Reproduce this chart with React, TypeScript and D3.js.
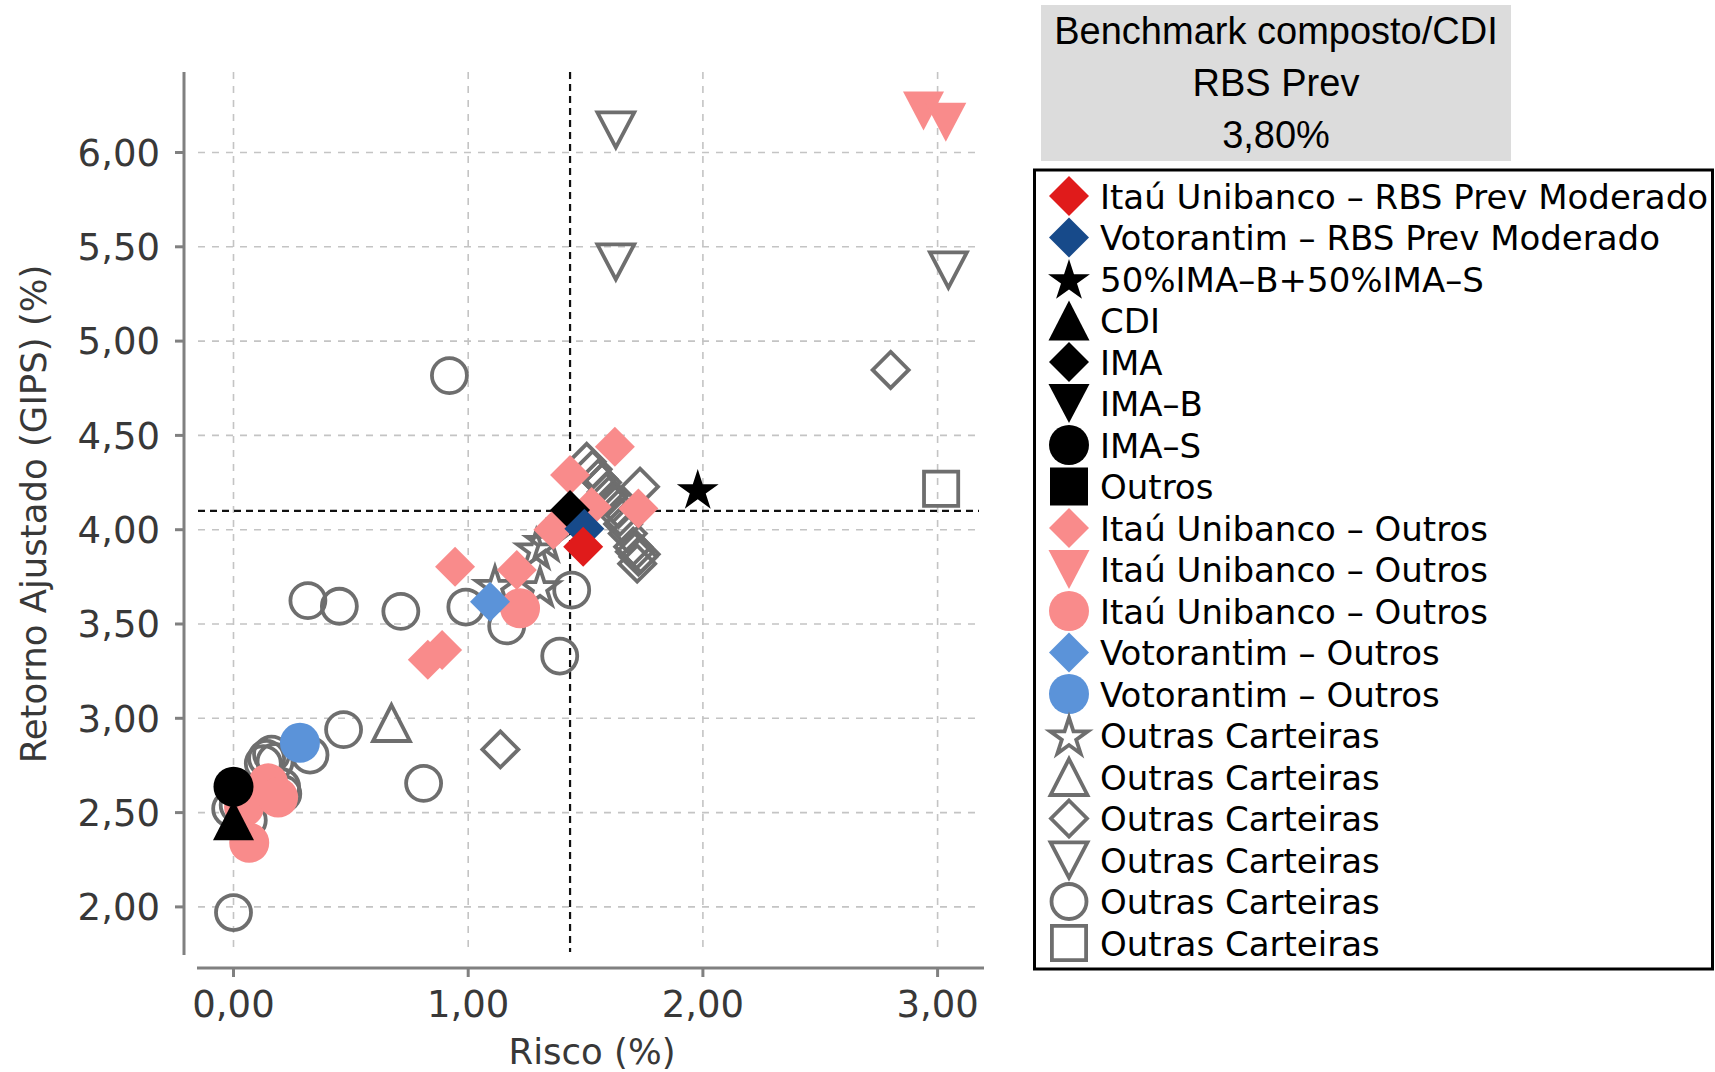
import React from "react";
import * as d3 from "d3";

// ---------- data ----------
const xTicks = [0, 1, 2, 3];
const xTickLabels = ["0,00", "1,00", "2,00", "3,00"];
const yTicks = [2, 2.5, 3, 3.5, 4, 4.5, 5, 5.5, 6];
const yTickLabels = ["2,00", "2,50", "3,00", "3,50", "4,00", "4,50", "5,00", "5,50", "6,00"];

const xTitle = "Risco (%)";
const yTitle = "Retorno Ajustado (GIPS) (%)";
const titleLines = ["Benchmark composto/CDI", "RBS Prev", "3,80%"];

// reference lines (IMA benchmark)
const refRisk = 1.434;
const refReturn = 4.1;

// [risk, return]
const itauModerado: [number, number][] = [[1.49, 3.91]];
const votorantimModerado: [number, number][] = [[1.495, 4.005]];
const bench5050: [number, number][] = [[1.978, 4.216]];
const cdi: [number, number][] = [[0.0, 2.46]];
const ima: [number, number][] = [[1.434, 4.104]];
const imaB: [number, number][] = [];
const imaS: [number, number][] = [[0.0, 2.637]];
const outros: [number, number][] = [];
const itauOutrosDiamond: [number, number][] = [
  [1.625, 4.44], [1.434, 4.29], [1.526, 4.12], [1.725, 4.113], [1.363, 4.0],
  [0.944, 3.804], [1.207, 3.786], [0.828, 3.31], [0.889, 3.362],
];
const itauOutrosTriDown: [number, number][] = [[2.94, 6.22], [3.035, 6.16]];
const itauOutrosCircle: [number, number][] = [
  [1.221, 3.583], [0.045, 2.53], [0.148, 2.655], [0.19, 2.58], [0.067, 2.34],
];
const votorantimOutrosDiamond: [number, number][] = [[1.093, 3.618]];
const votorantimOutrosCircle: [number, number][] = [[0.283, 2.87]];
const outrasStar: [number, number][] = [[1.29, 3.9], [1.33, 3.94], [1.306, 3.7], [1.114, 3.707]];
const outrasTriangle: [number, number][] = [[0.673, 2.975]];
const outrasDiamond: [number, number][] = [
  [2.8, 4.847], [1.137, 2.835], [1.505, 4.36], [1.53, 4.32], [1.554, 4.27],
  [1.57, 4.25], [1.59, 4.2], [1.6, 4.18], [1.618, 4.14], [1.64, 4.11],
  [1.647, 4.07], [1.66, 4.03], [1.68, 3.98], [1.732, 4.228], [1.703, 3.91],
  [1.71, 3.883], [1.725, 3.857], [1.72, 3.82], [1.735, 3.87],
];
const outrasTriDown: [number, number][] = [[1.629, 6.12], [1.629, 5.42], [3.046, 5.377]];
const outrasCircle: [number, number][] = [
  [0.92, 4.817], [0.317, 3.624], [0.451, 3.594], [0.713, 3.567], [0.99, 3.59],
  [1.164, 3.49], [1.441, 3.68], [1.39, 3.33], [0.469, 2.94], [0.81, 2.655],
  [0.0, 1.97], [0.326, 2.805], [0.141, 2.788], [0.162, 2.81], [0.177, 2.77],
  [0.127, 2.76], [0.205, 2.637], [0.21, 2.6], [-0.012, 2.52], [0.063, 2.46], [0.02, 2.54],
];
const outrasSquare: [number, number][] = [[3.015, 4.217]];

type Shape = "diamond" | "star" | "triangle" | "triangleDown" | "circle" | "square";
interface Series {
  label: string;
  shape: Shape;
  fill: string;
  hollow: boolean;
  points: [number, number][];
}

const RED = "#e01b1b";
const NAVY = "#174a8a";
const PINK = "#f98b8b";
const LBLUE = "#5b93d9";
const GRAY = "#6e6e6e";

const series: Series[] = [
  { label: "Itaú Unibanco – RBS Prev Moderado", shape: "diamond", fill: RED, hollow: false, points: itauModerado },
  { label: "Votorantim – RBS Prev Moderado", shape: "diamond", fill: NAVY, hollow: false, points: votorantimModerado },
  { label: "50%IMA–B+50%IMA–S", shape: "star", fill: "#000", hollow: false, points: bench5050 },
  { label: "CDI", shape: "triangle", fill: "#000", hollow: false, points: cdi },
  { label: "IMA", shape: "diamond", fill: "#000", hollow: false, points: ima },
  { label: "IMA–B", shape: "triangleDown", fill: "#000", hollow: false, points: imaB },
  { label: "IMA–S", shape: "circle", fill: "#000", hollow: false, points: imaS },
  { label: "Outros", shape: "square", fill: "#000", hollow: false, points: outros },
  { label: "Itaú Unibanco – Outros", shape: "diamond", fill: PINK, hollow: false, points: itauOutrosDiamond },
  { label: "Itaú Unibanco – Outros", shape: "triangleDown", fill: PINK, hollow: false, points: itauOutrosTriDown },
  { label: "Itaú Unibanco – Outros", shape: "circle", fill: PINK, hollow: false, points: itauOutrosCircle },
  { label: "Votorantim – Outros", shape: "diamond", fill: LBLUE, hollow: false, points: votorantimOutrosDiamond },
  { label: "Votorantim – Outros", shape: "circle", fill: LBLUE, hollow: false, points: votorantimOutrosCircle },
  { label: "Outras Carteiras", shape: "star", fill: GRAY, hollow: true, points: outrasStar },
  { label: "Outras Carteiras", shape: "triangle", fill: GRAY, hollow: true, points: outrasTriangle },
  { label: "Outras Carteiras", shape: "diamond", fill: GRAY, hollow: true, points: outrasDiamond },
  { label: "Outras Carteiras", shape: "triangleDown", fill: GRAY, hollow: true, points: outrasTriDown },
  { label: "Outras Carteiras", shape: "circle", fill: GRAY, hollow: true, points: outrasCircle },
  { label: "Outras Carteiras", shape: "square", fill: GRAY, hollow: true, points: outrasSquare },
];

// drawing order: hollow gray first, then coloured, then benchmarks, then moderado portfolios
const drawOrder = [13, 14, 15, 16, 17, 18, 8, 9, 10, 11, 12, 2, 3, 4, 5, 6, 7, 1, 0];

// ---------- layout ----------
const W = 1715;
const H = 1072;
const x = d3.scaleLinear().domain([0, 3]).range([233.5, 937.6]);
const y = d3.scaleLinear().domain([2, 6]).range([906.9, 152.5]);
const plotLeft = 198;
const plotRight = 979;
const plotTop = 72;
const plotBottom = 952;
const yAxisX = 184;
const xAxisY = 968;

function shapePath(shape: Shape, cx: number, cy: number, hollow: boolean): string {
  const k = hollow ? 0.9 : 1;
  if (shape === "diamond") {
    const h = 20 * k;
    return `M${cx},${cy - h}L${cx + h},${cy}L${cx},${cy + h}L${cx - h},${cy}Z`;
  }
  if (shape === "triangle") {
    const w = 20.5 * k, h = 20 * k;
    return `M${cx},${cy - h}L${cx + w},${cy + h}L${cx - w},${cy + h}Z`;
  }
  if (shape === "triangleDown") {
    const w = 20.5 * k, h = 19.5 * k;
    return `M${cx - w},${cy - h}L${cx + w},${cy - h}L${cx},${cy + h}Z`;
  }
  if (shape === "square") {
    const h = 19 * k;
    return `M${cx - h},${cy - h}H${cx + h}V${cy + h}H${cx - h}Z`;
  }
  if (shape === "star") {
    const R = 22 * k, r = R * 0.382;
    const pts: string[] = [];
    for (let i = 0; i < 10; i++) {
      const rr = i % 2 === 0 ? R : r;
      const a = -Math.PI / 2 + (i * Math.PI) / 5;
      pts.push(`${cx + rr * Math.cos(a)},${cy + 2 + rr * Math.sin(a)}`);
    }
    return "M" + pts.join("L") + "Z";
  }
  // circle
  const rad = hollow ? 17.5 : 20;
  return `M${cx - rad},${cy}a${rad},${rad} 0 1,0 ${2 * rad},0a${rad},${rad} 0 1,0 ${-2 * rad},0Z`;
}

function Marker({ s, cx, cy }: { s: Series; cx: number; cy: number }) {
  return (
    <path
      d={shapePath(s.shape, cx, cy, s.hollow)}
      fill={s.hollow ? "none" : s.fill}
      stroke={s.hollow ? s.fill : "none"}
      strokeWidth={s.hollow ? 3.8 : 0}
      strokeLinejoin="miter"
    />
  );
}

export default function App() {
  const axisFont = "'DejaVu Sans', Verdana, sans-serif";
  const legendTop = 196;
  const legendStep = 41.5;
  return (
    <div style={{ position: "absolute", left: 0, top: 0, width: W, height: H, background: "#fff" }}>
      <svg width={W} height={H} viewBox={`0 0 ${W} ${H}`} style={{ display: "block" }}>
        <rect x={0} y={0} width={W} height={H} fill="#fff" />
        {/* grid */}
        <g stroke="#c4c4c4" strokeWidth={1.6} strokeDasharray="7,7">
          {yTicks.map((t) => (
            <line key={"gy" + t} x1={plotLeft} x2={plotRight} y1={y(t)} y2={y(t)} />
          ))}
          {xTicks.map((t) => (
            <line key={"gx" + t} x1={x(t)} x2={x(t)} y1={plotTop} y2={plotBottom} />
          ))}
        </g>
        {/* reference lines */}
        <g stroke="#111" strokeWidth={2.2} strokeDasharray="7,5">
          <line x1={plotLeft} x2={plotRight} y1={y(refReturn)} y2={y(refReturn)} />
          <line x1={x(refRisk)} x2={x(refRisk)} y1={plotTop} y2={plotBottom} />
        </g>
        {/* axes */}
        <g stroke="#808080" strokeWidth={3}>
          <line x1={yAxisX} x2={yAxisX} y1={plotTop} y2={955} />
          <line x1={197} x2={984} y1={xAxisY} y2={xAxisY} />
          {yTicks.map((t) => (
            <line key={"ty" + t} x1={yAxisX - 9} x2={yAxisX} y1={y(t)} y2={y(t)} />
          ))}
          {xTicks.map((t) => (
            <line key={"tx" + t} x1={x(t)} x2={x(t)} y1={xAxisY} y2={xAxisY + 9} />
          ))}
        </g>
        <g fill="#383838" fontFamily={axisFont} fontSize={37}>
          {yTicks.map((t, i) => (
            <text key={"ly" + t} x={160} y={y(t)} dy="0.36em" textAnchor="end">
              {yTickLabels[i]}
            </text>
          ))}
          {xTicks.map((t, i) => (
            <text key={"lx" + t} x={x(t)} y={1017} textAnchor="middle">
              {xTickLabels[i]}
            </text>
          ))}
        </g>
        <text x={592} y={1064} textAnchor="middle" fontFamily={axisFont} fontSize={35.5} fill="#383838">
          {xTitle}
        </text>
        <text
          transform={`translate(46,514) rotate(-90)`}
          textAnchor="middle"
          fontFamily={axisFont}
          fontSize={35.5}
          fill="#383838"
        >
          {yTitle}
        </text>
        {/* markers */}
        <g>
          {drawOrder.map((si) => {
            const s = series[si];
            return (
              <g key={"s" + si}>
                {s.points.map((p, j) => (
                  <Marker key={j} s={s} cx={x(p[0])} cy={y(p[1])} />
                ))}
              </g>
            );
          })}
        </g>
        {/* title box */}
        <rect x={1041} y={5} width={470} height={156} fill="#dcdcdc" />
        <g fontFamily="'Liberation Sans', Arial, sans-serif" fontSize={38} fill="#000" textAnchor="middle">
          {titleLines.map((t, i) => (
            <text key={"t" + i} x={1276} y={44 + i * 52}>
              {t}
            </text>
          ))}
        </g>
        {/* legend */}
        <rect x={1034.5} y={170} width={678} height={799} fill="#fff" stroke="#000" strokeWidth={3} />
        <g fontFamily={axisFont} fontSize={34} fill="#000">
          {series.map((s, i) => {
            const cy = legendTop + i * legendStep;
            return (
              <g key={"lg" + i}>
                <Marker s={s} cx={1069} cy={cy} />
                <text x={1100} y={cy + 12.5}>
                  {s.label}
                </text>
              </g>
            );
          })}
        </g>
      </svg>
    </div>
  );
}
